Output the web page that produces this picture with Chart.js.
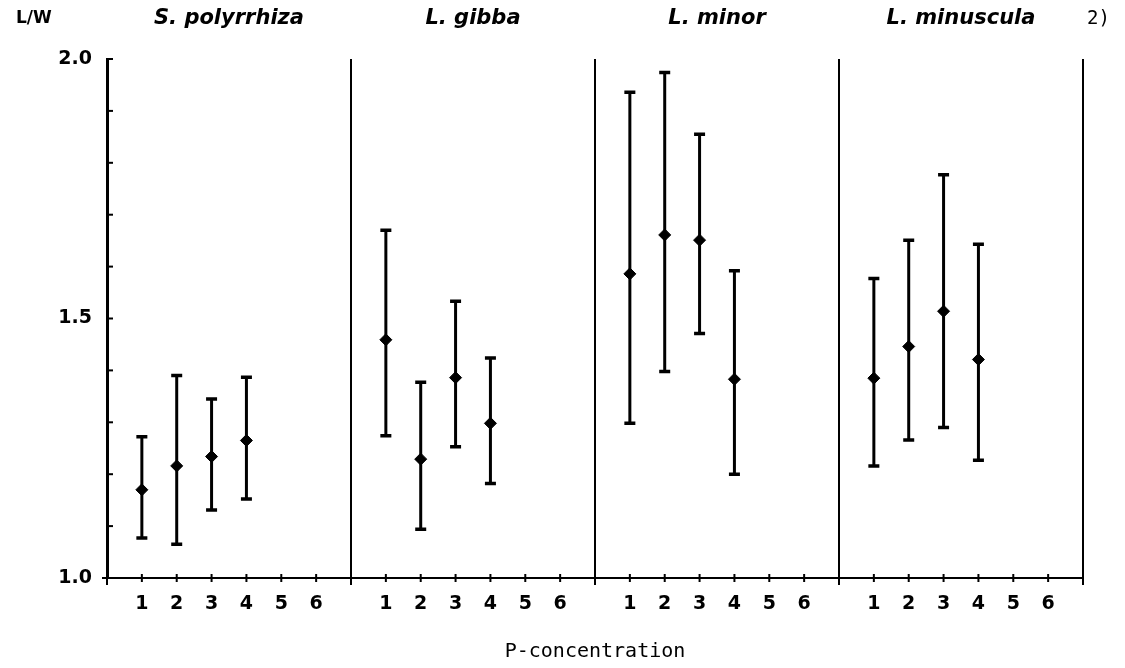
<!DOCTYPE html>
<html>
<head>
<meta charset="utf-8">
<script src="https://cdn.jsdelivr.net/npm/chart.js@4/dist/chart.umd.min.js"></script>
<style>
  html, body { margin: 0; padding: 0; background: #fff; }
  #wrap { width: 1125px; height: 668px; position: relative; }
</style>
</head>
<body>
<div id="wrap"><canvas id="lw-chart"></canvas></div>
<script>
// L/W ratio per species vs P-concentration (mean with range)

var species = ['S. polyrrhiza', 'L. gibba', 'L. minor', 'L. minuscula'];
var concLabels = ['1', '2', '3', '4', '5', '6'];
var measured = [1, 2, 3, 4];
var yTicks = [1.0, 1.5, 2.0];

var polyMean = [1.170, 1.216, 1.234, 1.265];
var polyLow  = [1.077, 1.065, 1.131, 1.152];
var polyHigh = [1.272, 1.390, 1.345, 1.387];

var gibbaMean = [1.459, 1.229, 1.386, 1.298];
var gibbaLow  = [1.274, 1.094, 1.253, 1.182];
var gibbaHigh = [1.670, 1.377, 1.533, 1.424];

var minorMean = [1.586, 1.661, 1.651, 1.383];
var minorLow  = [1.298, 1.398, 1.471, 1.200];
var minorHigh = [1.936, 1.974, 1.855, 1.592];

var minusMean = [1.385, 1.446, 1.514, 1.421];
var minusLow  = [1.216, 1.266, 1.290, 1.227];
var minusHigh = [1.577, 1.651, 1.777, 1.643];

var means = [polyMean, gibbaMean, minorMean, minusMean];
var lows = [polyLow, gibbaLow, minorLow, minusLow];
var highs = [polyHigh, gibbaHigh, minorHigh, minusHigh];

var panelWidth = concLabels.length + 1; // 7 units per panel

// build scatter datasets
var datasets = species.map(function (name, p) {
    return {
        label: name,
        data: measured.map(function (c, i) {
            return { x: p * panelWidth + c, y: means[p][i], lo: lows[p][i], hi: highs[p][i] };
        }),
        pointStyle: 'rectRot',
        pointRadius: 6,
        pointHoverRadius: 6,
        backgroundColor: '#000',
        borderColor: '#000',
        borderWidth: 1,
        showLine: false
    };
});

var xTickValues = [];
species.forEach(function (s, p) {
    concLabels.forEach(function (l, i) { xTickValues.push(p * panelWidth + i + 1); });
});

var boldFont = { family: 'DejaVu Sans', weight: 'bold', size: 19 };

var decor = {
    id: 'decor',
    beforeDatasetsDraw: function (chart) {
        var ctx = chart.ctx, xs = chart.scales.x, ys = chart.scales.y;
        ctx.save();
        ctx.strokeStyle = '#000';
        chart.data.datasets.forEach(function (ds) {
            ds.data.forEach(function (d) {
                var px = xs.getPixelForValue(d.x);
                var top = ys.getPixelForValue(d.hi);
                var bot = ys.getPixelForValue(d.lo);
                ctx.lineWidth = 3;
                ctx.beginPath();
                ctx.moveTo(px, top); ctx.lineTo(px, bot);
                ctx.stroke();
                ctx.lineWidth = 3.5;
                ctx.beginPath();
                ctx.moveTo(px - 5.5, top); ctx.lineTo(px + 5.5, top);
                ctx.moveTo(px - 5.5, bot); ctx.lineTo(px + 5.5, bot);
                ctx.stroke();
            });
        });
        ctx.restore();
    },
    afterDraw: function (chart) {
        var ctx = chart.ctx, xs = chart.scales.x, ys = chart.scales.y;
        var area = chart.chartArea;
        ctx.save();
        ctx.strokeStyle = '#000';
        ctx.fillStyle = '#000';

        // panel dividers
        ctx.lineWidth = 2;
        species.forEach(function (s, p) {
            var px = xs.getPixelForValue((p + 1) * panelWidth);
            ctx.beginPath();
            ctx.moveTo(px, area.top); ctx.lineTo(px, area.bottom + 7);
            ctx.stroke();
        });

        // x tick crosses
        ctx.lineWidth = 2;
        xTickValues.forEach(function (v) {
            var px = xs.getPixelForValue(v);
            ctx.beginPath();
            ctx.moveTo(px, area.bottom - 4); ctx.lineTo(px, area.bottom + 4);
            ctx.stroke();
        });
        // left tick on x axis
        ctx.beginPath();
        ctx.moveTo(area.left - 5, area.bottom); ctx.lineTo(area.left, area.bottom);
        ctx.moveTo(area.left, area.bottom); ctx.lineTo(area.left, area.bottom + 7);
        ctx.stroke();

        // y ticks pointing inwards
        ctx.lineWidth = 2;
        ys.ticks.forEach(function (t) {
            var py = ys.getPixelForValue(t.value);
            ctx.beginPath();
            ctx.moveTo(area.left, py); ctx.lineTo(area.left + 6, py);
            ctx.stroke();
        });

        // panel titles
        ctx.font = 'italic bold 21px "DejaVu Sans"';
        ctx.textAlign = 'center';
        ctx.textBaseline = 'middle';
        species.forEach(function (s, p) {
            ctx.fillText(s, xs.getPixelForValue(p * panelWidth + panelWidth / 2), 19);
        });

        ctx.font = 'bold 17px "DejaVu Sans"';
        ctx.textAlign = 'left';
        ctx.fillText('L/W', 16, 19);

        ctx.font = '19px "DejaVu Sans Mono"';
        ctx.fillText('2)', 1087, 19);
        ctx.restore();
    }
};

var ctx = document.getElementById('lw-chart').getContext('2d');
var chart = new Chart(ctx, {
    type: 'scatter',
    data: { datasets: datasets },
    options: {
        responsive: true,
        maintainAspectRatio: false,
        animation: false,
        layout: { padding: { left: 0, right: 42, top: 59, bottom: 0 } },
        plugins: {
            legend: { display: false },
            tooltip: { enabled: false }
        },
        scales: {
            x: {
                type: 'linear',
                min: 0,
                max: species.length * panelWidth,
                afterFit: function (s) { s.height = 90; },
                afterBuildTicks: function (s) {
                    s.ticks = xTickValues.map(function (v) { return { value: v }; });
                },
                ticks: {
                    autoSkip: false,
                    maxRotation: 0,
                    padding: 15,
                    color: '#000',
                    font: boldFont,
                    callback: function (v) { return concLabels[(v % panelWidth) - 1]; }
                },
                grid: { display: false, drawTicks: false },
                border: { display: true, color: '#000', width: 2 },
                title: {
                    display: true,
                    text: 'P-concentration',
                    color: '#000',
                    font: { family: 'DejaVu Sans Mono', size: 20 },
                    padding: { top: 0, bottom: 4 }
                }
            },
            y: {
                min: 1.0,
                max: 2.0,
                afterFit: function (s) { s.width = 107; },
                ticks: {
                    stepSize: 0.1,
                    padding: 15,
                    color: '#000',
                    font: boldFont,
                    callback: function (v) {
                        var hit = yTicks.filter(function (t) { return Math.abs(t - v) < 1e-6; });
                        return hit.length ? hit[0].toFixed(1) : '';
                    }
                },
                grid: { display: false, drawTicks: false },
                border: { display: true, color: '#000', width: 3 }
            }
        }
    },
    plugins: [decor]
});
</script>
</body>
</html>
